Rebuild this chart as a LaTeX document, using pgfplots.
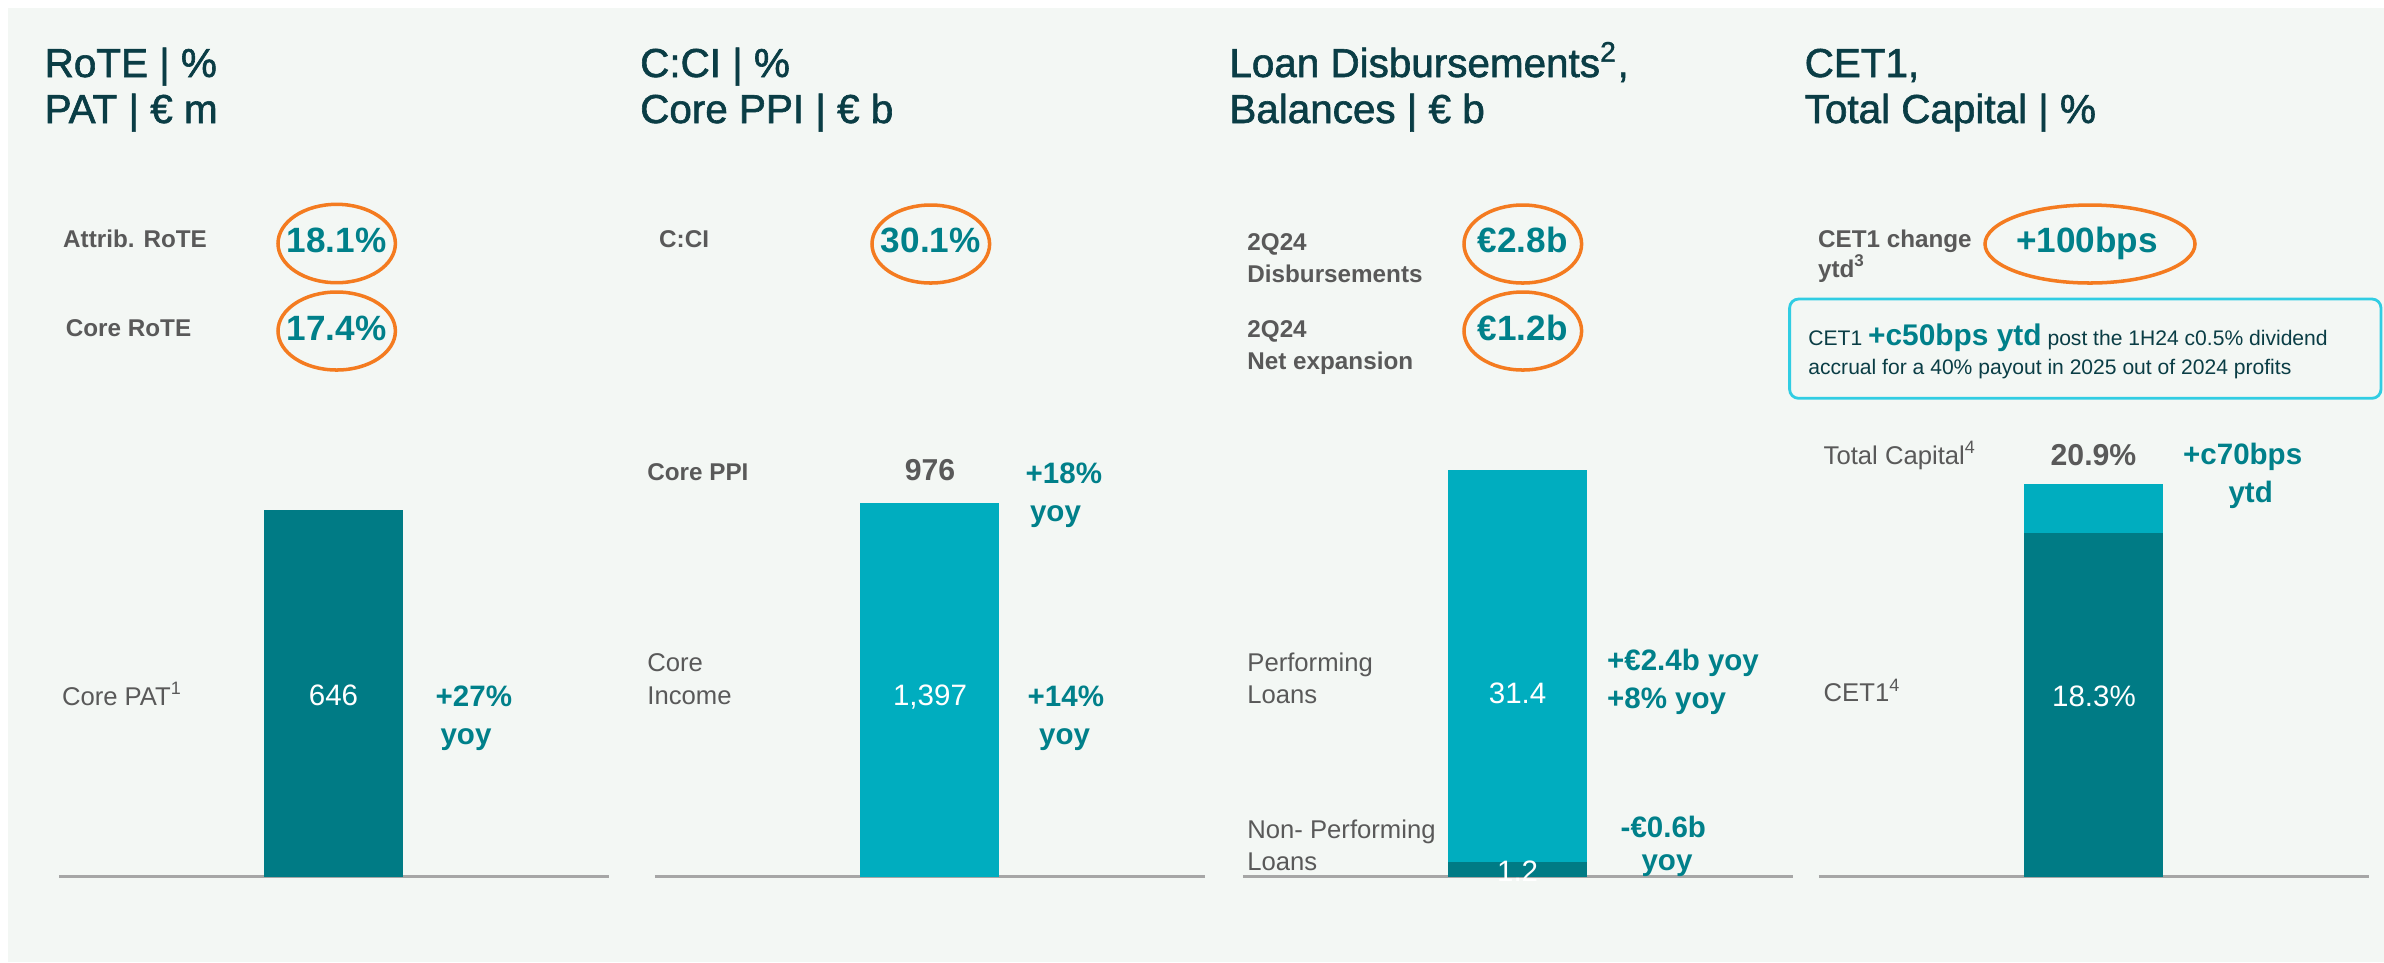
\documentclass[border=0pt]{standalone}
\usepackage{fontspec}
\setmainfont{Liberation Sans}
\newfontfamily\titlefont{Liberation Sans}[FakeBold=1.5]
\usepackage{pgfplots}
\pgfplotsset{compat=1.18}

\definecolor{bg}{HTML}{F3F7F4}
\definecolor{tealdark}{HTML}{007B85}
\definecolor{cyanbar}{HTML}{00ADBF}
\definecolor{tealtext}{HTML}{00808A}
\definecolor{titlecol}{HTML}{0A3D45}
\definecolor{labgray}{HTML}{595959}
\definecolor{ring}{HTML}{F47B20}
\definecolor{boxline}{HTML}{30CDE3}
\definecolor{basegray}{HTML}{A6A6A6}

\newcommand\fs[1]{\fontsize{#1}{#1}\selectfont}

\pgfplotsset{
  panel/.style={
    scale only axis, width=55mm, height=42mm,
    xmin=-1, xmax=1, ymin=0,
    axis x line=bottom, axis y line=none,
    axis line style={draw=basegray, line width=0.6pt, -},
    xtick=\empty, ytick=\empty,
    clip=false, anchor=south west,
    bar width=13.9mm,
  },
}

\begin{document}
\begin{tikzpicture}
% page and panel background, 1 unit = 1 px of the reference
\begin{scope}[x=0.1mm, y=-0.1mm]
  \path[use as bounding box, fill=white] (0,0) rectangle (2384,962);
  \fill[bg] (8,8) rectangle (2384,962);
\end{scope}

% RoTE / PAT
\begin{axis}[panel, at={(5.9mm,-87.65mm)}, ymax=741.3]
  \addplot[ybar, fill=tealdark, draw=none] coordinates {(0,646)};
\end{axis}

% C:CI / Core PPI
\begin{axis}[panel, at={(65.5mm,-87.65mm)}, ymax=1571.8]
  \addplot[ybar, fill=cyanbar, draw=none] coordinates {(0,1397)};
\end{axis}

% loans: non-performing + performing
\begin{axis}[panel, ybar stacked, at={(124.3mm,-87.65mm)}, ymax=33.7]
  \addplot[fill=tealdark, draw=none] coordinates {(0,1.2)};
  \addplot[fill=cyanbar, draw=none] coordinates {(0,31.4)};
\end{axis}

% capital: CET1 + rest of total capital
\begin{axis}[panel, ybar stacked, at={(181.9mm,-87.65mm)}, ymax=22.39]
  \addplot[fill=tealdark, draw=none] coordinates {(0,18.3)};
  \addplot[fill=cyanbar, draw=none] coordinates {(0,2.6)};
\end{axis}

\begin{scope}[x=0.1mm, y=-0.1mm, every node/.style={inner sep=0pt},
  ttl/.style={anchor=base west, text=titlecol, font=\titlefont\fs{11.5}},
  rowb/.style={anchor=base west, text=labgray, font=\fs{6.9}\bfseries},
  rowr/.style={anchor=base west, text=labgray, font=\fs{7.3}},
  big/.style={anchor=base, text=tealtext, font=\fs{10}\bfseries},
  inbar/.style={anchor=base, text=white, font=\fs{8.4}},
  note/.style={text=tealtext, font=\fs{8.4}\bfseries},
  ringline/.style={draw=ring, line width=1pt}]

  % titles
  \node[ttl] at (44,77) {RoTE | \%};
  \node[ttl] at (44,123) {PAT | € m};
  \node[ttl] at (639.5,77) {C:CI | \%};
  \node[ttl] at (639.5,123) {Core PPI | € b};
  \node[ttl] at (1228.7,77) {Loan Disbursements\textsuperscript{2},};
  \node[ttl] at (1228.7,123) {Balances | € b};
  \node[ttl] at (1804,77) {CET1,};
  \node[ttl] at (1804,123) {Total Capital | \%};

  % headline figures
  \node[rowb] at (62.5,247.3) {Attrib. RoTE};
  \node[rowb] at (65.2,336) {Core RoTE};
  \node[big] at (336.7,252.5) {18.1\%};
  \node[big] at (336.7,340.5) {17.4\%};
  \draw[ringline] (336.7,243.5) ellipse [x radius=58.7, y radius=39.2];
  \draw[ringline] (336.7,331) ellipse [x radius=58.7, y radius=39];

  \node[rowb] at (658.5,247) {C:CI};
  \node[big] at (930.8,252.5) {30.1\%};
  \draw[ringline] (930.8,244) ellipse [x radius=58.8, y radius=39];

  \node[rowb] at (1246.7,250.7) {2Q24};
  \node[rowb] at (1246.7,282.7) {Disbursements};
  \node[rowb] at (1246.7,337.3) {2Q24};
  \node[rowb] at (1246.7,369.3) {Net expansion};
  \node[big] at (1522.8,252.5) {€2.8b};
  \node[big] at (1522.8,340) {€1.2b};
  \draw[ringline] (1522.8,244) ellipse [x radius=58.8, y radius=39];
  \draw[ringline] (1522.8,331) ellipse [x radius=58.8, y radius=39];

  \node[rowb] at (1817.4,247.3) {CET1 change};
  \node[rowb] at (1817.4,277.3) {ytd\textsuperscript{3}};
  \node[big] at (2087,252.5) {+100bps};
  \draw[ringline] (2090,244) ellipse [x radius=105, y radius=39];

  % note box
  \draw[boxline, line width=0.8pt, rounded corners=0.9mm] (1789.6,299) rectangle (2381,398.3);
  \node[anchor=base west, text=titlecol, font=\fs{6}] at (1807.7,345)
    {CET1 {\fs{8.5}\bfseries\color{tealtext}+c50bps ytd} post the 1H24 c0.5\% dividend};
  \node[anchor=base west, text=titlecol, font=\fs{6}] at (1807.7,374)
    {accrual for a 40\% payout in 2025 out of 2024 profits};

  % panel 1 labels
  \node[rowr] at (61.3,705) {Core PAT\textsuperscript{1}};
  \node[inbar] at (333.5,705) {646};
  \node[note, anchor=base west] at (435,706.7) {+27\%};
  \node[note, anchor=base] at (466,744) {yoy};

  % panel 2 labels
  \node[rowb] at (646.7,480) {Core PPI};
  \node[anchor=base, text=labgray, font=\fs{8.6}\bfseries] at (930,480) {976};
  \node[note, anchor=base west] at (1025,483.3) {+18\%};
  \node[note, anchor=base] at (1055.5,521.7) {yoy};
  \node[rowr] at (646.7,671.7) {Core};
  \node[rowr] at (646.7,704.3) {Income};
  \node[inbar] at (930,705) {1,397};
  \node[note, anchor=base west] at (1027,706.7) {+14\%};
  \node[note, anchor=base] at (1064.6,744) {yoy};

  % panel 3 labels
  \node[rowr] at (1246.7,671.7) {Performing};
  \node[rowr] at (1246.7,703.3) {Loans};
  \node[rowr] at (1246.7,838.3) {Non- Performing};
  \node[rowr] at (1246.7,870) {Loans};
  \node[inbar] at (1517.6,703.3) {31.4};
  \node[inbar] at (1517.6,881) {1.2};
  \node[note, anchor=base west] at (1606.4,670) {+€2.4b yoy};
  \node[note, anchor=base west] at (1606.4,708.3) {+8\% yoy};
  \node[note, anchor=base west] at (1620,837.3) {-€0.6b};
  \node[note, anchor=base] at (1667,870) {yoy};

  % panel 4 labels
  \node[rowr] at (1823,464) {Total Capital\textsuperscript{4}};
  \node[anchor=base, text=labgray, font=\fs{8.6}\bfseries] at (2093.5,465) {20.9\%};
  \node[note, anchor=base west] at (2182.5,464) {+c70bps};
  \node[note, anchor=base] at (2250.7,502.7) {ytd};
  \node[rowr] at (1823,701.7) {CET1\textsuperscript{4}};
  \node[inbar] at (2094,706.7) {18.3\%};
\end{scope}
\end{tikzpicture}
\end{document}
